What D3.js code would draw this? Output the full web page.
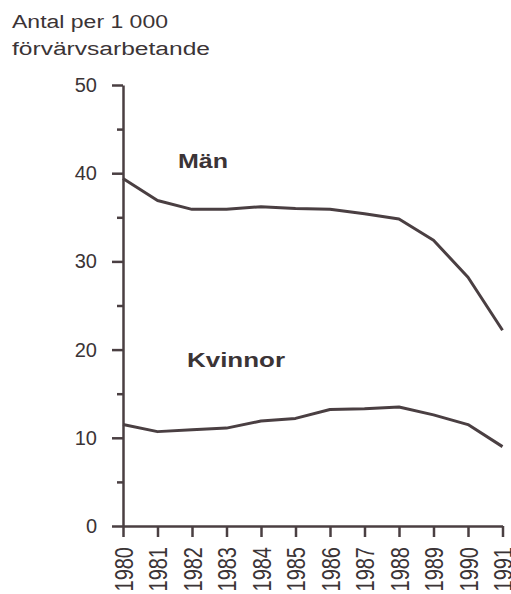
<!DOCTYPE html>
<html>
<head>
<meta charset="utf-8">
<script src="https://cdn.jsdelivr.net/npm/d3@7"></script>
<style>
    body { margin: 0; background: #fff; }
    svg { display: block; font-family: "Liberation Sans", Arial, sans-serif; }
</style>
</head>
<body>
<div id="chart"></div>
<script>
// data
var years = [1980, 1981, 1982, 1983, 1984, 1985, 1986, 1987, 1988, 1989, 1990, 1991];
var man = [39.4, 36.9, 35.9, 35.9, 36.2, 36.0, 35.9, 35.4, 34.8, 32.4, 28.2, 22.2];
var kvinnor = [11.5, 10.7, 10.9, 11.1, 11.9, 12.2, 13.2, 13.3, 13.5, 12.6, 11.5, 9.0];
var majorTicks = [0, 10, 20, 30, 40, 50];
var minorTicks = [5, 15, 25, 35, 45];
var titleLines = ["Antal per 1 000", "förvärvsarbetande"];

var width = 511, height = 594;
var ink = "#4a3f42", textCol = "#3b3436";

var svg = d3.select("#chart").append("svg")
    .attr("width", width)
    .attr("height", height);

var x = d3.scaleLinear()
    .domain([years[0], years[years.length - 1]])
    .range([123, 502.5]);

var y = d3.scaleLinear()
    .domain([0, 50])
    .range([526, 85]);

// title, two lines
svg.append("text")
    .attr("x", 12)
    .attr("y", 28)
    .attr("textLength", 156)
    .attr("lengthAdjust", "spacingAndGlyphs")
    .style("font-size", "18px")
    .style("fill", textCol)
    .text(titleLines[0]);

svg.append("text")
    .attr("x", 12)
    .attr("y", 55)
    .attr("textLength", 198)
    .attr("lengthAdjust", "spacingAndGlyphs")
    .style("font-size", "18px")
    .style("fill", textCol)
    .text(titleLines[1]);

// minor ticks on y
var yMinor = svg.append("g")
    .attr("transform", "translate(123,0)")
    .call(d3.axisLeft(y).tickValues(minorTicks).tickSize(6).tickFormat(""));

var yAxis = svg.append("g")
    .attr("transform", "translate(123,0)")
    .call(d3.axisLeft(y).tickValues(majorTicks).tickSizeInner(11).tickSizeOuter(0).tickPadding(15));

var xAxis = svg.append("g")
    .attr("transform", "translate(0,526)")
    .call(d3.axisBottom(x).tickValues(years).tickSizeInner(11).tickSizeOuter(0).tickFormat(d3.format("d")));

[yMinor, yAxis, xAxis].forEach(function (g) {
    g.selectAll("path.domain")
        .style("stroke", ink)
        .style("stroke-width", "2.5px");
    g.selectAll(".tick line")
        .style("stroke", ink)
        .style("stroke-width", "2.5px");
});
yMinor.select("path.domain").remove();

yAxis.selectAll(".tick text")
    .style("font-size", "20px")
    .style("font-family", "Liberation Sans, Arial, sans-serif")
    .style("fill", textCol);

xAxis.selectAll(".tick text")
    .attr("x", null)
    .attr("y", null)
    .attr("dy", "0.36em")
    .attr("transform", "translate(0,21) rotate(-90) scale(1,1.25)")
    .attr("text-anchor", "end")
    .style("font-size", "20px")
    .style("font-family", "Liberation Sans, Arial, sans-serif")
    .style("fill", textCol);

// series lines
var line = d3.line()
    .x(function (d, i) { return x(years[i]); })
    .y(function (d) { return y(d); });

[man, kvinnor].forEach(function (s) {
    svg.append("path")
        .datum(s)
        .attr("d", line)
        .style("fill", "none")
        .style("stroke", ink)
        .style("stroke-width", "3px")
        .style("stroke-linejoin", "round");
});

// series labels
svg.append("text")
    .attr("x", 178)
    .attr("y", 168)
    .attr("textLength", 50)
    .attr("lengthAdjust", "spacingAndGlyphs")
    .attr("font-weight", "bold")
    .style("font-size", "21px")
    .style("fill", textCol)
    .text("Män");

svg.append("text")
    .attr("x", 187)
    .attr("y", 367)
    .attr("textLength", 98)
    .attr("lengthAdjust", "spacingAndGlyphs")
    .attr("font-weight", "bold")
    .style("font-size", "20px")
    .style("fill", textCol)
    .text("Kvinnor");
</script>
</body>
</html>
